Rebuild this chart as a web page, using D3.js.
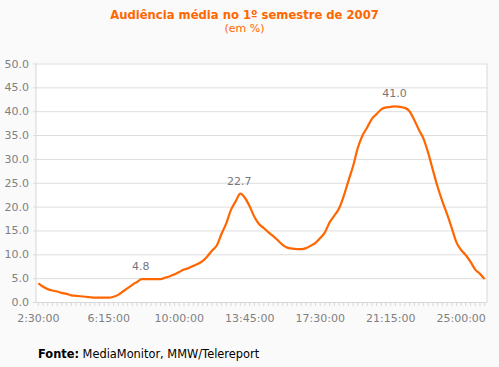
<!DOCTYPE html>
<html>
<head>
<meta charset="utf-8">
<script src="https://cdn.jsdelivr.net/npm/d3@7"></script>
<style>
  body { margin: 0; background: #fafafa; }
  svg { display: block; font-family: "DejaVu Sans", Verdana, sans-serif; }
</style>
</head>
<body>
<svg id="chart" width="499" height="367"></svg>
<script>
// audiencia media, every 15 minutes from 2:30 to 26:15
var values = [3.9, 3.2, 2.7, 2.4, 2.2, 1.9, 1.7, 1.4, 1.3, 1.2,
    1.1, 1.0, 0.9, 0.9, 0.9, 0.9, 1.1, 1.5, 2.2, 2.9,
    3.6, 4.2, 4.8, 4.8, 4.8, 4.8, 4.8, 5.1, 5.4, 5.8,
    6.3, 6.8, 7.1, 7.6, 8.0, 8.6, 9.6, 10.8, 11.9, 14.3,
    16.5, 19.3, 21.1, 22.7, 21.8, 20.0, 17.8, 16.3, 15.5, 14.6,
    13.8, 12.9, 12.0, 11.4, 11.2, 11.1, 11.1, 11.3, 11.8, 12.4,
    13.4, 14.6, 16.7, 18.1, 19.6, 22.2, 25.4, 28.5, 32.3, 34.9,
    36.6, 38.4, 39.4, 40.4, 40.8, 40.9, 41.0, 40.9, 40.7, 40.0,
    38.2, 36.1, 34.2, 31.2, 27.6, 24.1, 21.1, 18.4, 15.5, 12.5,
    10.9, 9.8, 8.4, 6.8, 5.9, 4.8];

var xTickLabels = ['2:30:00', '6:15:00', '10:00:00', '13:45:00', '17:30:00', '21:15:00', '25:00:00'];
var yTicks = [0, 5, 10, 15, 20, 25, 30, 35, 40, 45, 50];
var annotated = [22, 43, 76]; // points with a value label

// category names (hh:mm:ss), one per point
var times = values.map(function (v, i) {
    var m = 150 + i * 15;
    return Math.floor(m / 60) + ':' + String(m % 60).padStart(2, '0') + ':00';
});

const svg = d3.select('#chart');
const pLeft = 36, pRight = 487, pTop = 63.5, pBottom = 302;
const orange = '#ff6600';

const x = d3.scaleBand().domain(times).range([pLeft, pRight]);
const y = d3.scaleLinear().domain([0, 50]).range([pBottom, pTop]);

// title
svg.append('text').attr('x', 244.5).attr('y', 18.5)
    .attr('text-anchor', 'middle').attr('fill', orange)
    .style('font-size', '11.6px').style('font-weight', 'bold')
    .text('Audiência média no 1º semestre de 2007');
svg.append('text').attr('x', 244.5).attr('y', 31.5)
    .attr('text-anchor', 'middle').attr('fill', orange)
    .style('font-size', '11px')
    .text('(em %)');

// plot background
svg.append('rect').attr('x', pLeft).attr('y', pTop)
    .attr('width', pRight - pLeft).attr('height', pBottom - pTop)
    .attr('fill', '#fff');

// y axis with grid
const yAxis = svg.append('g').attr('transform', 'translate(' + pLeft + ',0)')
    .call(d3.axisLeft(y).tickValues(yTicks).tickFormat(d3.format('.1f'))
        .tickSize(-(pRight - pLeft)).tickPadding(7));
yAxis.select('.domain').remove();
yAxis.selectAll('.tick line').attr('stroke', '#dddddd').attr('x1', -3);
yAxis.selectAll('.tick text').attr('fill', '#808080')
    .style('font-size', '11px').style('font-family', '"DejaVu Sans", Verdana, sans-serif');

// frame lines
svg.append('line').attr('x1', pLeft).attr('x2', pLeft).attr('y1', pTop).attr('y2', pBottom)
    .attr('stroke', '#d8d8d8');
svg.append('line').attr('x1', pRight).attr('x2', pRight).attr('y1', pTop).attr('y2', pBottom)
    .attr('stroke', '#d8d8d8');

// x axis: small tick on every point, label every 15th
const xAxis = svg.append('g').attr('transform', 'translate(0,' + pBottom + ')')
    .call(d3.axisBottom(x).tickSize(4).tickPadding(8)
        .tickFormat(function (d) { return xTickLabels.indexOf(d) >= 0 ? d : ''; }));
xAxis.select('.domain').attr('stroke', '#d8d8d8').attr('d', 'M' + pLeft + ',0.5H' + pRight);
xAxis.selectAll('.tick line').attr('stroke', '#d8d8d8');
xAxis.selectAll('.tick text').attr('fill', '#808080')
    .style('font-size', '11px').style('font-family', '"DejaVu Sans", Verdana, sans-serif');

// the line
const line = d3.line()
    .x(function (d, i) { return x(times[i]) + x.bandwidth() / 2; })
    .y(function (d) { return y(d); })
    .curve(d3.curveMonotoneX);

svg.append('path').datum(values)
    .attr('d', line)
    .attr('fill', 'none')
    .attr('stroke', orange)
    .attr('stroke-width', 2.2)
    .attr('stroke-linejoin', 'round');

// value labels
svg.selectAll('.vlabel').data(annotated).enter().append('text')
    .attr('class', 'vlabel')
    .attr('x', function (i) { return x(times[i]) + x.bandwidth() / 2 - 1; })
    .attr('y', function (i) { return y(values[i]) - 9; })
    .attr('text-anchor', 'middle').attr('fill', '#777')
    .style('font-size', '11px')
    .text(function (i) { return values[i].toFixed(1); });

// source
const src = svg.append('text').attr('x', 38).attr('y', 358)
    .attr('fill', '#000').style('font-size', '11.4px');
src.append('tspan').style('font-weight', 'bold').text('Fonte:');
src.append('tspan').text(' MediaMonitor, MMW/Telereport');
</script>
</body>
</html>
